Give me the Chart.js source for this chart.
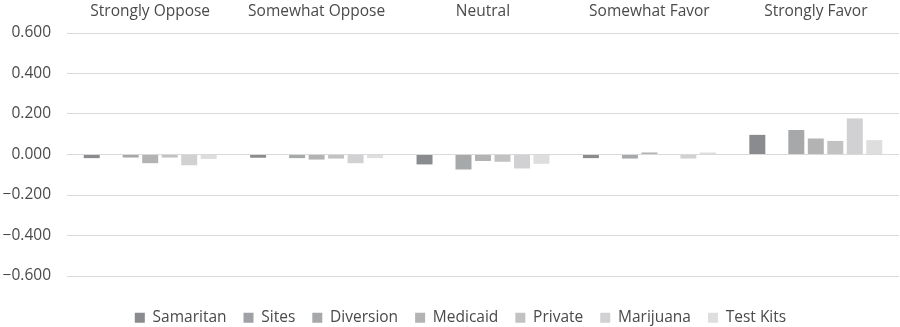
<!DOCTYPE html>
<html>
<head>
<meta charset="utf-8">
<script src="https://cdn.jsdelivr.net/npm/chart.js@4"></script>
<style>
  html, body { margin: 0; padding: 0; background: #fff; }
  #wrap { width: 900px; height: 327px; }
</style>
</head>
<body>
<div id="wrap"><canvas id="chart" width="900" height="327"></canvas></div>
<script>
const categories = ['Strongly Oppose', 'Somewhat Oppose', 'Neutral', 'Somewhat Favor', 'Strongly Favor'];
const seriesNames = ['Samaritan', 'Sites', 'Diversion', 'Medicaid', 'Private', 'Marijuana', 'Test Kits'];

const samaritan = [-0.018, -0.016, -0.049, -0.018, 0.097];
const sites     = [0, 0, 0, 0, 0];
const diversion = [-0.015, -0.018, -0.074, -0.020, 0.121];
const medicaid  = [-0.043, -0.025, -0.032, 0.010, 0.079];
const privateIns = [-0.015, -0.020, -0.036, 0.000, 0.067];
const marijuana = [-0.053, -0.043, -0.069, -0.020, 0.178];
const testKits  = [-0.022, -0.018, -0.046, 0.010, 0.071];

const yTicks = [-0.6, -0.4, -0.2, 0, 0.2, 0.4, 0.6];

const colors = ['#8a8b8e', '#9fa1a4', '#a6a8aa', '#b3b3b4', '#c2c2c3', '#d1d1d3', '#dedede'];
const values = [samaritan, sites, diversion, medicaid, privateIns, marijuana, testKits];

const textColor = '#4a4a4a';
const baseFont = { family: "'Open Sans', 'Liberation Sans', sans-serif", size: 15.5 };

// nudge the legend row down and right, like the original
const legendShift = {
  id: 'legendShift',
  afterLayout(chart) {
    const lg = chart.legend;
    lg.top += 17;
    lg.bottom += 17;
    lg.left += 11;
    lg.right += 11;
  }
};

new Chart(document.getElementById('chart').getContext('2d'), {
  type: 'bar',
  data: {
    labels: categories,
    datasets: seriesNames.map((name, i) => ({
      label: name,
      data: values[i],
      backgroundColor: colors[i],
      borderWidth: 0,
      categoryPercentage: 0.82,
      barPercentage: 0.82
    }))
  },
  options: {
    responsive: false,
    animation: false,
    layout: { padding: { top: 0, right: 1, bottom: 8.5, left: 0 } },
    plugins: {
      legend: {
        position: 'bottom',
        labels: {
          color: textColor,
          font: baseFont,
          boxWidth: 10,
          boxHeight: 10,
          padding: 17
        }
      },
      tooltip: { enabled: false }
    },
    scales: {
      x: {
        position: 'top',
        grid: { display: false, drawTicks: false },
        border: { display: false },
        ticks: { color: textColor, font: baseFont, padding: 12, maxRotation: 0 },
        afterFit(scale) { scale.height = 33; }
      },
      y: {
        min: -0.6,
        max: 0.6,
        afterBuildTicks(scale) { scale.ticks = yTicks.map(v => ({ value: v })); },
        grid: { color: '#d9d9d9', lineWidth: 1, drawTicks: false },
        border: { display: false },
        ticks: {
          color: textColor,
          font: baseFont,
          padding: 16,
          callback: v => (v < 0 ? '\u2212' : '') + Math.abs(v).toFixed(3)
        },
        afterFit(scale) { scale.width = 67; }
      }
    }
  },
  plugins: [legendShift]
});
</script>
</body>
</html>
